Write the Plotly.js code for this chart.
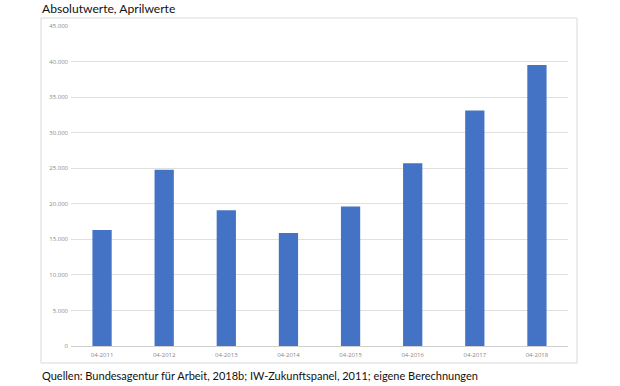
<!DOCTYPE html>
<html>
<head>
<meta charset="utf-8">
<script src="https://cdn.plot.ly/plotly-3.0.1.min.js"></script>
<style>html,body{margin:0;padding:0;background:#fff;}#chart{width:620px;height:386px;}</style>
</head>
<body>
<div id="chart"></div>
<script>
const categories = ["04-2011","04-2012","04-2013","04-2014","04-2015","04-2016","04-2017","04-2018"];
const values = [16300, 24800, 19100, 15900, 19600, 25700, 33100, 39500];
const tickVals = [0,5000,10000,15000,20000,25000,30000,35000,40000,45000];
const tickText = ["0","5.000","10.000","15.000","20.000","25.000","30.000","35.000","40.000","45.000"];
const titleText = "Absolutwerte, Aprilwerte";
const sourceText = "Quellen: Bundesagentur für Arbeit, 2018b; IW-Zukunftspanel, 2011; eigene Berechnungen";

const W = 620, H = 386;
const L = 71, R = 52, T = 26, B = 40;
const pw = W - L - R, ph = H - T - B;
const px = x => (x - L) / pw;
const py = y => (H - B - y) / ph;

Plotly.newPlot('chart', [{
  type: 'bar',
  x: categories,
  y: values,
  marker: {color: '#4472C4'},
  hoverinfo: 'x+y'
}], {
  width: W, height: H,
  margin: {l: L, r: R, t: T, b: B, pad: 0},
  paper_bgcolor: '#fff', plot_bgcolor: '#fff',
  bargap: 0.69,
  showlegend: false,
  font: {family: 'Open Sans, sans-serif'},
  xaxis: {
    type: 'category',
    tickfont: {size: 6, color: '#888'},
    showgrid: false, zeroline: false, showline: false,
    ticks: '', ticklen: 0, ticklabelstandoff: 4
  },
  yaxis: {
    range: [0, 45000],
    tickvals: tickVals, ticktext: tickText,
    tickfont: {size: 6, color: '#888'},
    gridcolor: '#e0e0e0', gridwidth: 1,
    zeroline: true, zerolinecolor: '#d0d0d0', zerolinewidth: 1,
    showline: false, ticks: '', ticklen: 0, ticklabelstandoff: 2
  },
  shapes: [{
    type: 'rect', xref: 'paper', yref: 'paper',
    x0: px(41), x1: px(577), y0: py(363), y1: py(18),
    line: {color: '#d9d9d9', width: 1}, fillcolor: 'rgba(0,0,0,0)', layer: 'below'
  }],
  annotations: [
    {text: titleText, xref: 'paper', yref: 'paper', x: px(40), y: py(8), xanchor: 'left', yanchor: 'middle',
     showarrow: false, font: {size: 12.1, color: '#111', family: 'Lato, sans-serif'}},
    {text: sourceText, xref: 'paper', yref: 'paper', x: px(40), y: py(375), xanchor: 'left', yanchor: 'middle',
     showarrow: false, font: {size: 11, color: '#111', family: 'Lato, sans-serif'}}
  ]
}, {displayModeBar: false, staticPlot: true});
</script>
</body>
</html>
